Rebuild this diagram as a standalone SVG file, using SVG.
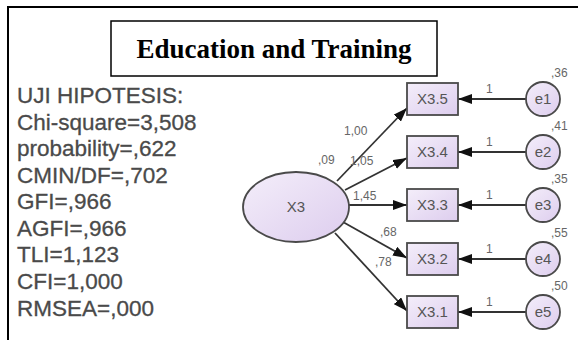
<svg xmlns="http://www.w3.org/2000/svg" width="578" height="340" viewBox="0 0 578 340">
<defs>
<linearGradient id="lav" x1="0" y1="0" x2="1" y2="1">
<stop offset="0" stop-color="#f4eefa"/>
<stop offset="1" stop-color="#ddcdee"/>
</linearGradient>
<marker id="ah" viewBox="0 0 14 10" refX="14" refY="5" markerWidth="14" markerHeight="10" markerUnits="userSpaceOnUse" orient="auto">
<path d="M0,0 L14,5 L0,10 z" fill="#111"/>
</marker>
</defs>
<style>
.frame{fill:none;stroke:#000;stroke-width:2}
.title{font-family:"Liberation Serif","Times New Roman",serif;font-weight:bold;font-size:27px;fill:#000}
.stat{font-family:"Liberation Sans",Arial,sans-serif;font-size:22.5px;fill:#4a4a4a;stroke:#4a4a4a;stroke-width:0.3}
.node{fill:url(#lav);stroke:#4a4a4a;stroke-width:1.8}
.nt{font-family:"Liberation Sans",Arial,sans-serif;font-size:15px;fill:#555;text-anchor:middle}
.lbl{font-family:"Liberation Sans",Arial,sans-serif;font-size:12px;fill:#666}
.con line{stroke:#333;stroke-width:1.8;marker-end:url(#ah)}
</style>
<rect width="578" height="340" fill="#fff"/>
<path class="frame" d="M8,340 V7 H578"/>
<g id="title">
<rect x="111" y="21" width="326" height="55" fill="#fff" stroke="#000" stroke-width="1.5"/>
<text class="title" x="274" y="58" text-anchor="middle">Education and Training</text>
</g>
<g id="stats">
<text class="stat" x="17" y="103">UJI HIPOTESIS:</text>
<text class="stat" x="17" y="130">Chi-square=3,508</text>
<text class="stat" x="17" y="156">probability=,622</text>
<text class="stat" x="17" y="183">CMIN/DF=,702</text>
<text class="stat" x="17" y="209">GFI=,966</text>
<text class="stat" x="17" y="236">AGFI=,966</text>
<text class="stat" x="17" y="262">TLI=1,123</text>
<text class="stat" x="17" y="289">CFI=1,000</text>
<text class="stat" x="17" y="316">RMSEA=,000</text>
</g>
<g id="connectors" class="con">
<line x1="337" y1="181" x2="407" y2="108"/>
<line x1="345" y1="190" x2="407" y2="158"/>
<line x1="349" y1="205" x2="407" y2="205"/>
<line x1="343" y1="222" x2="407" y2="258"/>
<line x1="335" y1="233" x2="407" y2="311"/>
<line x1="526" y1="99" x2="458" y2="99"/>
<line x1="526" y1="152" x2="458" y2="152"/>
<line x1="526" y1="205" x2="458" y2="205"/>
<line x1="526" y1="259" x2="458" y2="259"/>
<line x1="526" y1="312" x2="458" y2="312"/>
</g>
<g id="labels" class="lbl">
<text x="344" y="135">1,00</text>
<text x="318" y="164">,09</text>
<text x="350" y="165">1,05</text>
<text x="353" y="200">1,45</text>
<text x="380" y="236">,68</text>
<text x="375" y="266">,78</text>
<text x="486" y="93">1</text>
<text x="486" y="146">1</text>
<text x="486" y="199">1</text>
<text x="486" y="253">1</text>
<text x="486" y="306">1</text>
<text x="551" y="77">,36</text>
<text x="551" y="130">,41</text>
<text x="551" y="183">,35</text>
<text x="551" y="237">,55</text>
<text x="551" y="290">,50</text>
</g>
<g id="X3">
<ellipse class="node" cx="296" cy="207" rx="53" ry="35"/>
<text class="nt" x="296" y="212">X3</text>
</g>
<g id="X3.5"><rect class="node" x="407" y="83" width="51" height="32"/><text class="nt" x="432.5" y="104">X3.5</text></g>
<g id="X3.4"><rect class="node" x="407" y="136" width="51" height="32"/><text class="nt" x="432.5" y="157">X3.4</text></g>
<g id="X3.3"><rect class="node" x="407" y="189" width="51" height="32"/><text class="nt" x="432.5" y="210">X3.3</text></g>
<g id="X3.2"><rect class="node" x="407" y="243" width="51" height="32"/><text class="nt" x="432.5" y="264">X3.2</text></g>
<g id="X3.1"><rect class="node" x="407" y="296" width="51" height="32"/><text class="nt" x="432.5" y="317">X3.1</text></g>
<g id="e1"><circle class="node" cx="543" cy="99" r="17"/><text class="nt" x="543" y="104">e1</text></g>
<g id="e2"><circle class="node" cx="543" cy="152" r="17"/><text class="nt" x="543" y="157">e2</text></g>
<g id="e3"><circle class="node" cx="543" cy="205" r="17"/><text class="nt" x="543" y="210">e3</text></g>
<g id="e4"><circle class="node" cx="543" cy="259" r="17"/><text class="nt" x="543" y="264">e4</text></g>
<g id="e5"><circle class="node" cx="543" cy="312" r="17"/><text class="nt" x="543" y="317">e5</text></g>
</svg>
